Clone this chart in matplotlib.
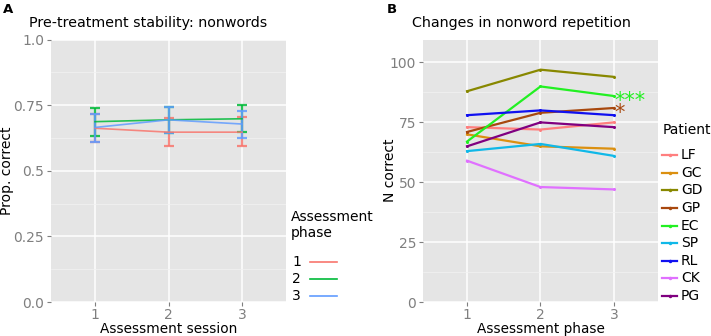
import matplotlib
matplotlib.use("Agg")
import matplotlib.pyplot as plt
from matplotlib.lines import Line2D
import numpy as np

plt.rcParams['font.family'] = ['DejaVu Sans']

# ---------------- data ----------------
sessions = [1, 2, 3]
phase_labels = ["1", "2", "3"]
phase_colors = ["#F8766D", "#00BA38", "#619CFF"]
a_mean = {
    "1": [0.662, 0.647, 0.647],
    "2": [0.687, 0.694, 0.698],
    "3": [0.665, 0.694, 0.678],
}
a_low = {
    "1": [0.611, 0.596, 0.596],
    "2": [0.634, 0.642, 0.647],
    "3": [0.611, 0.642, 0.624],
}
a_high = {
    "1": [0.716, 0.700, 0.703],
    "2": [0.739, 0.744, 0.749],
    "3": [0.716, 0.744, 0.729],
}

phases = [1, 2, 3]
patients = ["LF", "GC", "GD", "GP", "EC", "SP", "RL", "CK", "PG"]
patient_colors = ["#FF7F7F", "#DB9010", "#888800", "#A8480E", "#22F022",
                  "#10B8E8", "#1010F0", "#E070FF", "#800080"]
b_values = {
    "LF": [73, 72, 75],
    "GC": [70, 65, 64],
    "GD": [88, 97, 94],
    "GP": [71, 79, 81],
    "EC": [67, 90, 86],
    "SP": [63, 66, 61],
    "RL": [78, 80, 78],
    "CK": [59, 48, 47],
    "PG": [65, 75, 73],
}
sig_marks = {"EC": "***", "GP": "*"}

# ---------------- figure ----------------
W, H = 711, 336
fig = plt.figure(figsize=(W / 100, H / 100), dpi=100)

def fx(px):
    return px / W

def fy(py):
    return 1 - py / H

panel_bg = "#E5E5E5"
tick_col = "#7F7F7F"

def style_axes(ax):
    ax.set_facecolor(panel_bg)
    for s in ax.spines.values():
        s.set_visible(False)
    ax.grid(which="major", color="white", linewidth=1.1)
    ax.grid(which="minor", axis="y", color="#F2F2F2", linewidth=0.5)
    ax.set_axisbelow(True)
    ax.tick_params(which="major", length=3, width=0.8, color=tick_col,
                   labelcolor=tick_col, labelsize=10, pad=2)
    ax.tick_params(axis="x", which="major", pad=1)
    ax.tick_params(which="minor", length=0)

XLAB_Y = 329.0

# Panel A
axA = fig.add_axes([fx(51), fy(302), fx(286 - 51), (302 - 39.5) / H])
style_axes(axA)
for lab, col in zip(phase_labels, phase_colors):
    m = np.array(a_mean[lab]); lo = np.array(a_low[lab]); hi = np.array(a_high[lab])
    axA.errorbar(sessions, m, yerr=[m - lo, hi - m], color=col, lw=1.2,
                 elinewidth=1.6, capsize=3.5, capthick=1.6, alpha=0.85)
axA.set_xlim(0.4, 3.6)
axA.set_ylim(0, 1.0)
axA.set_xticks(sessions)
axA.set_yticks([0, 0.25, 0.5, 0.75, 1.0])
axA.set_yticklabels(["0.0", "0.25", "0.5", "0.75", "1.0"])
axA.set_yticks([0.125, 0.375, 0.625, 0.875], minor=True)
axA.set_xlabel("Assessment session", fontsize=9.8)
axA.xaxis.set_label_coords(0.5, -(XLAB_Y - 302) / 262.5)
axA.xaxis.label.set_va("center")
axA.set_ylabel("Prop. correct", fontsize=10, va="center")
axA.yaxis.set_label_coords((7.5 - 51) / 235, 0.5)

# Panel B
axB = fig.add_axes([fx(423), fy(302), fx(658 - 423), (302 - 39.5) / H])
style_axes(axB)
for p, col in zip(patients, patient_colors):
    axB.plot(phases, b_values[p], color=col, lw=1.6, marker="o", ms=2.2,
             markeredgewidth=0)
for p, txt in sig_marks.items():
    col = patient_colors[patients.index(p)]
    axB.annotate(txt, xy=(phases[-1], b_values[p][-1]), xytext=(0.5, -3.3),
                 textcoords="offset points", color=col, fontsize=15,
                 ha="left", va="center")
axB.set_xlim(0.4, 3.6)
axB.set_ylim(0, 109.6)
axB.set_xticks(phases)
axB.set_yticks([0, 25, 50, 75, 100])
axB.set_yticks([12.5, 37.5, 62.5, 87.5], minor=True)
axB.set_xlabel("Assessment phase", fontsize=9.8)
axB.xaxis.set_label_coords(0.5, -(XLAB_Y - 302) / 262.5)
axB.xaxis.label.set_va("center")
axB.set_ylabel("N correct", fontsize=10, va="center")
axB.yaxis.set_label_coords((390 - 423) / 235, 0.5)

# Titles & panel letters
fig.text(fx(3), fy(9.5), "A", fontsize=9.5, fontweight="bold", va="center", ha="left")
fig.text(fx(387), fy(9.5), "B", fontsize=9.5, fontweight="bold", va="center", ha="left")
fig.text(fx(29), fy(23), "Pre-treatment stability: nonwords", fontsize=10.3,
         va="center", ha="left")
fig.text(fx(412), fy(23), "Changes in nonword repetition", fontsize=10.3,
         va="center", ha="left")

# Legend A
fig.text(fx(291), fy(225), "Assessment\nphase", fontsize=10, va="center",
         ha="left", linespacing=1.25)
for lab, col, yy in zip(phase_labels, phase_colors, [262, 279, 296]):
    fig.text(fx(292), fy(yy), lab, fontsize=10, va="center", ha="left")
    fig.add_artist(Line2D([fx(310), fx(337)], [fy(yy), fy(yy)], color=col,
                          lw=1.2, transform=fig.transFigure))

# Legend B
fig.text(fx(663), fy(130), "Patient", fontsize=10, va="center", ha="left")
ys = np.linspace(155, 296, len(patients))
for p, col, yy in zip(patients, patient_colors, ys):
    fig.text(fx(681), fy(yy), p, fontsize=10, va="center", ha="left")
    fig.add_artist(Line2D([fx(662), fx(677)], [fy(yy), fy(yy)], color=col,
                          lw=1.6, transform=fig.transFigure))
    fig.add_artist(Line2D([fx(669.5)], [fy(yy)], color=col, marker="o",
                          ms=2.5, markeredgewidth=0, transform=fig.transFigure))

fig.savefig("out.png", dpi=100)
